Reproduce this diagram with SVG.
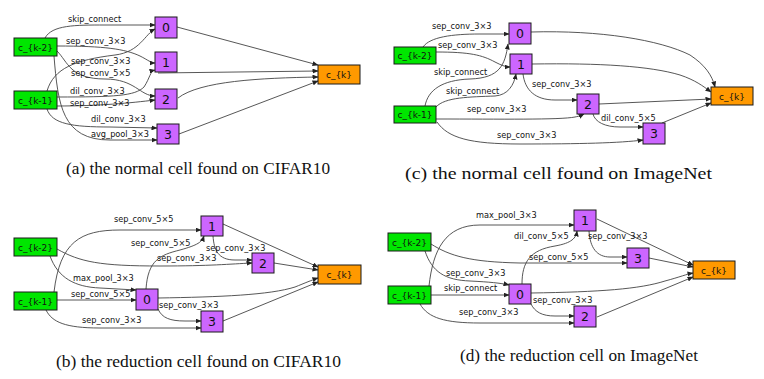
<svg xmlns="http://www.w3.org/2000/svg" width="764" height="379" viewBox="0 0 764 379">
<defs>
<marker id="ah" markerWidth="6" markerHeight="5" refX="5.5" refY="2.5" orient="auto" markerUnits="userSpaceOnUse">
<path d="M0,0 L6,2.5 L0,5 z" fill="#222"/>
</marker>
<style>
.e{fill:none;stroke:#444;stroke-width:0.9;marker-end:url(#ah)}
.in rect{fill:#00e600;stroke:#1a1a1a;stroke-width:1}
.op rect{fill:#cc66ff;stroke:#1a1a1a;stroke-width:1}
.out rect{fill:#ff9900;stroke:#1a1a1a;stroke-width:1}
.nt{font-family:"DejaVu Sans",Verdana,sans-serif;font-size:9px;fill:#111;text-anchor:middle}
.num{font-family:"DejaVu Sans",Verdana,sans-serif;font-size:12.5px;fill:#111;text-anchor:middle}
.lb{font-family:"DejaVu Sans",Verdana,sans-serif;font-size:8.2px;fill:#111}
.cap{font-family:"Liberation Serif","Times New Roman",serif;font-size:16.5px;fill:#111}
</style>
</defs>
<rect width="764" height="379" fill="#fff"/>

<g id="connectors">
<!-- (a) -->
<path class="e" d="M45,38 C52,25 75,25 105,25 L155,25"/>
<path class="e" d="M57,46 C105,46 125,49 140,56 C148,60 151,63 155,63"/>
<path class="e" d="M47,91 C54,68 75,60 115,55 C140,52 145,34 155,29"/>
<path class="e" d="M57,51 C68,62 70,79 105,79 C135,79 140,96 155,96"/>
<path class="e" d="M57,97 C115,97 135,96 144,87 C150,78 150,71 155,70"/>
<path class="e" d="M57,106 C100,106 130,103 155,100"/>
<path class="e" d="M47,109 C52,124 72,127 110,127 L157,128"/>
<path class="e" d="M54,56 C58,105 62,140 110,140 L157,140"/>
<path class="e" d="M177,27 L318,65"/>
<path class="e" d="M158,73 L318,71"/>
<path class="e" d="M178,98 C200,81 260,78 318,77"/>
<path class="e" d="M179,134 L318,81"/>
<!-- (c) -->
<path class="e" d="M423,47 C430,37 452,34 480,34 L509,34"/>
<path class="e" d="M436,52 C470,52 482,55 495,62 C501,65 505,67 510,67"/>
<path class="e" d="M425,106 C428,90 442,80 470,79 C500,78 505,65 508,44"/>
<path class="e" d="M436,107 C445,97 470,97 495,96 C508,95 514,85 516,74"/>
<path class="e" d="M436,119 C500,119 560,120 575,117 C580,116 582,115 584,114"/>
<path class="e" d="M437,122 C448,138 470,144 520,144 C580,144 620,143 643,140"/>
<path class="e" d="M523,74 C525,90 535,100 555,100 L577,100"/>
<path class="e" d="M593,114 C595,122 605,127 620,127 L643,127"/>
<path class="e" d="M531,32 C600,30 660,40 690,55 C705,65 712,75 715,87"/>
<path class="e" d="M532,64 C600,63 650,66 680,75 C695,80 703,86 711,92"/>
<path class="e" d="M599,104 L711,99"/>
<path class="e" d="M662,123 L711,103"/>
<!-- (b) -->
<path class="e" d="M54,292 C60,242 80,230 120,230 L201,230"/>
<path class="e" d="M146,289 C148,260 160,255 180,250 C198,245 202,242 204,236"/>
<path class="e" d="M57,249 C80,262 100,266 160,266 C210,266 230,264 252,263"/>
<path class="e" d="M50,256 C58,278 75,287 100,288 L136,290"/>
<path class="e" d="M57,300 L136,300"/>
<path class="e" d="M46,310 C52,322 65,328 100,328 L201,328"/>
<path class="e" d="M158,309 C162,318 170,321 185,321 L201,321"/>
<path class="e" d="M213,236 C214,250 218,260 235,260 L252,260"/>
<path class="e" d="M223,224 L318,267"/>
<path class="e" d="M274,263 L318,270"/>
<path class="e" d="M158,298 C220,297 270,295 295,287 C305,283 312,280 318,278"/>
<path class="e" d="M223,321 L318,282"/>
<!-- (d) -->
<path class="e" d="M429,286 C433,250 445,225 480,225 L574,225"/>
<path class="e" d="M522,284 C522,262 530,250 555,246 C572,243 576,238 577,231"/>
<path class="e" d="M431,244 C450,256 470,262 520,263 L627,263"/>
<path class="e" d="M425,251 C432,272 445,280 470,281 C490,282 500,283 509,285"/>
<path class="e" d="M431,295 L509,295"/>
<path class="e" d="M420,304 C428,318 445,323 480,323 L574,323"/>
<path class="e" d="M531,304 C535,312 542,316 555,316 L574,316"/>
<path class="e" d="M589,231 C590,248 597,257 610,257 L627,257"/>
<path class="e" d="M597,219 L693,265"/>
<path class="e" d="M649,258 L693,267"/>
<path class="e" d="M531,293 C600,292 640,289 665,281 C680,277 687,274 693,273"/>
<path class="e" d="M597,317 L693,277"/>
</g>

<g id="edge-labels">
<text class="lb" x="68" y="22">skip_connect</text>
<text class="lb" x="66" y="44">sep_conv_3×3</text>
<text class="lb" x="71" y="64">sep_conv_3×3</text>
<text class="lb" x="71" y="76">sep_conv_5×5</text>
<text class="lb" x="70" y="94">dil_conv_3×3</text>
<text class="lb" x="70" y="106">sep_conv_3×3</text>
<text class="lb" x="91" y="122">dil_conv_3×3</text>
<text class="lb" x="91" y="137">avg_pool_3×3</text>

<text class="lb" x="432" y="29">sep_conv_3×3</text>
<text class="lb" x="438" y="48">sep_conv_3×3</text>
<text class="lb" x="434" y="74.5">skip_connect</text>
<text class="lb" x="446" y="93.5">skip_connect</text>
<text class="lb" x="467" y="112">sep_conv_3×3</text>
<text class="lb" x="497" y="138">sep_conv_3×3</text>
<text class="lb" x="532" y="86.5">sep_conv_3×3</text>
<text class="lb" x="601" y="121">dil_conv_5×5</text>

<text class="lb" x="114" y="222">sep_conv_5×5</text>
<text class="lb" x="131" y="246">sep_conv_5×5</text>
<text class="lb" x="157" y="261">sep_conv_3×3</text>
<text class="lb" x="73" y="281">max_pool_3×3</text>
<text class="lb" x="71" y="296.5">sep_conv_5×5</text>
<text class="lb" x="82" y="322.5">sep_conv_3×3</text>
<text class="lb" x="159" y="308">sep_conv_3×3</text>
<text class="lb" x="206" y="251">sep_conv_3×3</text>

<text class="lb" x="476" y="217.5">max_pool_3×3</text>
<text class="lb" x="514" y="239">dil_conv_5×5</text>
<text class="lb" x="529" y="260">sep_conv_5×5</text>
<text class="lb" x="446" y="276">sep_conv_3×3</text>
<text class="lb" x="444" y="291">skip_connect</text>
<text class="lb" x="459" y="315">sep_conv_3×3</text>
<text class="lb" x="533" y="303">sep_conv_3×3</text>
<text class="lb" x="588" y="238.5">sep_conv_3×3</text>
</g>

<!-- (a) nodes -->
<g id="a_k2" class="in"><rect x="14" y="38" width="43" height="18"/><text class="nt" x="35.5" y="50.5">c_{k-2}</text></g>
<g id="a_k1" class="in"><rect x="14" y="91" width="43" height="18"/><text class="nt" x="35.5" y="103.5">c_{k-1}</text></g>
<g id="a_0" class="op"><rect x="155" y="17" width="22" height="21"/><text class="num" x="166" y="32">0</text></g>
<g id="a_1" class="op"><rect x="155" y="52" width="22" height="20"/><text class="num" x="166" y="66.5">1</text></g>
<g id="a_2" class="op"><rect x="155" y="89" width="22" height="20"/><text class="num" x="166" y="103.5">2</text></g>
<g id="a_3" class="op"><rect x="157" y="124" width="22" height="20"/><text class="num" x="168" y="138.5">3</text></g>
<g id="a_k" class="out"><rect x="318" y="65" width="42" height="19"/><text class="nt" x="339" y="78">c_{k}</text></g>

<!-- (c) nodes -->
<g id="c_k2" class="in"><rect x="394" y="47" width="42" height="17"/><text class="nt" x="415" y="59">c_{k-2}</text></g>
<g id="c_k1" class="in"><rect x="394" y="106" width="42" height="17"/><text class="nt" x="415" y="118">c_{k-1}</text></g>
<g id="c_0" class="op"><rect x="509" y="23" width="22" height="21"/><text class="num" x="520" y="38">0</text></g>
<g id="c_1" class="op"><rect x="510" y="54" width="22" height="20"/><text class="num" x="521" y="68.5">1</text></g>
<g id="c_2" class="op"><rect x="577" y="94" width="22" height="20"/><text class="num" x="588" y="108.5">2</text></g>
<g id="c_3" class="op"><rect x="643" y="123" width="22" height="21"/><text class="num" x="654" y="138">3</text></g>
<g id="c_k" class="out"><rect x="711" y="87" width="42" height="18"/><text class="nt" x="732" y="99.5">c_{k}</text></g>

<!-- (b) nodes -->
<g id="b_k2" class="in"><rect x="14" y="238" width="43" height="18"/><text class="nt" x="35.5" y="250.5">c_{k-2}</text></g>
<g id="b_k1" class="in"><rect x="14" y="292" width="43" height="18"/><text class="nt" x="35.5" y="304.5">c_{k-1}</text></g>
<g id="b_0" class="op"><rect x="136" y="289" width="22" height="21"/><text class="num" x="147" y="304">0</text></g>
<g id="b_1" class="op"><rect x="201" y="216" width="22" height="20"/><text class="num" x="212" y="230.5">1</text></g>
<g id="b_2" class="op"><rect x="252" y="253" width="22" height="20"/><text class="num" x="263" y="267.5">2</text></g>
<g id="b_3" class="op"><rect x="201" y="311" width="22" height="21"/><text class="num" x="212" y="326">3</text></g>
<g id="b_k" class="out"><rect x="318" y="265" width="43" height="19"/><text class="nt" x="339.5" y="278">c_{k}</text></g>

<!-- (d) nodes -->
<g id="d_k2" class="in"><rect x="388" y="233" width="43" height="18"/><text class="nt" x="409.5" y="245.5">c_{k-2}</text></g>
<g id="d_k1" class="in"><rect x="388" y="286" width="43" height="18"/><text class="nt" x="409.5" y="298.5">c_{k-1}</text></g>
<g id="d_0" class="op"><rect x="509" y="284" width="22" height="20"/><text class="num" x="520" y="298.5">0</text></g>
<g id="d_1" class="op"><rect x="574" y="210" width="22" height="21"/><text class="num" x="585" y="225">1</text></g>
<g id="d_3" class="op"><rect x="627" y="248" width="22" height="20"/><text class="num" x="638" y="262.5">3</text></g>
<g id="d_2" class="op"><rect x="574" y="306" width="22" height="21"/><text class="num" x="585" y="321">2</text></g>
<g id="d_k" class="out"><rect x="693" y="261" width="42" height="18"/><text class="nt" x="714" y="273.5">c_{k}</text></g>

<g id="captions">
<text class="cap" x="66" y="173.5" textLength="264" lengthAdjust="spacingAndGlyphs">(a) the normal cell found on CIFAR10</text>
<text class="cap" x="405" y="179" textLength="307" lengthAdjust="spacingAndGlyphs">(c) the normal cell found on ImageNet</text>
<text class="cap" x="56" y="366.5" textLength="285" lengthAdjust="spacingAndGlyphs">(b) the reduction cell found on CIFAR10</text>
<text class="cap" x="460" y="360.5" textLength="238" lengthAdjust="spacingAndGlyphs">(d) the reduction cell on ImageNet</text>
</g>
</svg>
